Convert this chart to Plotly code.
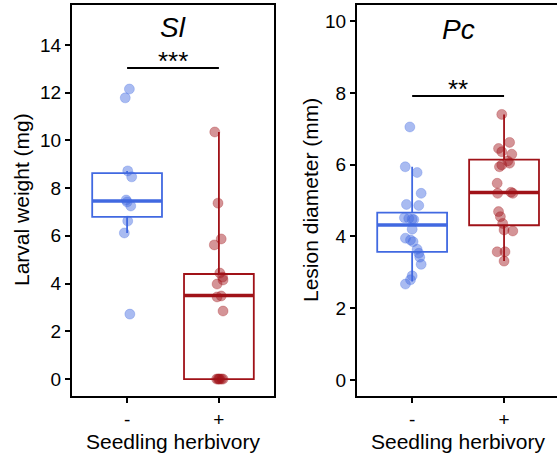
import numpy as np
import plotly.graph_objects as go

# ---------------- data ----------------
groups = ["-", "+"]
group_pos = [0, 1]

# Sl: larval weight (mg)
sl_minus = [12.15, 11.78, 8.72, 8.47, 7.50, 7.42, 7.25, 6.62, 6.12, 2.72]
sl_minus_jit = [0.025, -0.02, 0.007, 0.05, -0.01, 0.0, 0.04, 0.007, -0.03, 0.03]
sl_plus = [10.35, 7.37, 5.87, 5.62, 4.44, 4.27, 4.15, 3.98, 3.48, 3.44, 2.85,
           0, 0, 0, 0, 0, 0]
sl_plus_jit = [-0.045, -0.01, 0.025, -0.05, 0.01, 0.04, 0.045, -0.02, 0.025, -0.02, 0.045,
               -0.025, -0.01, 0.0, 0.01, 0.03, 0.045]
# box summaries: q1, median, q3, lower whisker, upper whisker
sl_q1 = [6.79, 0.0]
sl_med = [7.46, 3.50]
sl_q3 = [8.63, 4.40]
sl_lo = [6.12, 0.0]
sl_hi = [8.72, 10.35]

# Pc: lesion diameter (mm)
pc_minus = [7.05, 5.94, 5.78, 5.20, 4.89, 4.86, 4.52, 4.50, 4.48, 4.47, 4.20,
            3.95, 3.90, 3.85, 3.64, 3.53, 3.42, 3.22, 2.90, 2.79, 2.67]
pc_minus_jit = [-0.025, -0.075, 0.054, 0.098, -0.062, 0.072, -0.084, -0.037, 0.0, 0.018, 0.0,
                -0.073, -0.018, 0.01, 0.054, 0.072, 0.083, 0.098, 0.0, -0.018, -0.073]
pc_plus = [7.40, 6.62, 6.45, 6.36, 6.29, 6.10, 6.04, 5.99, 5.94, 5.48, 5.20, 5.23, 5.20,
           4.69, 4.55, 4.36, 4.18, 4.15, 3.57, 3.57, 3.31]
pc_plus_jit = [-0.025, 0.06, -0.06, -0.025, 0.084, 0.04, 0.06, -0.025, -0.05, -0.075, -0.07,
               0.075, 0.095, -0.06, -0.04, -0.015, 0.0, 0.095, -0.075, 0.01, 0.0]
pc_q1 = [3.57, 4.31]
pc_med = [4.32, 5.22]
pc_q3 = [4.66, 6.14]
pc_lo = [2.74, 3.31]
pc_hi = [5.94, 7.40]

sig_y = [13.03, 7.91]
sig_text = ["***", "**"]
panel_titles = ["Sl", "Pc"]
y_titles = ["Larval weight (mg)", "Lesion diameter (mm)"]
x_title = "Seedling herbivory"

# ---------------- style ----------------
BLUE = "rgb(65,105,225)"
BLUE_PT = "rgba(65,105,225,0.45)"
RED = "rgb(160,18,24)"
RED_PT = "rgba(160,18,24,0.45)"
colors = [BLUE, RED]
pt_colors = [BLUE_PT, RED_PT]
FONT = "Liberation Sans, Arial, sans-serif"
BW = 0.76

fig = go.Figure()

panels = [
    dict(xa="x", ya="y", pts=[(sl_minus, sl_minus_jit), (sl_plus, sl_plus_jit)],
         q1=sl_q1, med=sl_med, q3=sl_q3, lo=sl_lo, hi=sl_hi),
    dict(xa="x2", ya="y2", pts=[(pc_minus, pc_minus_jit), (pc_plus, pc_plus_jit)],
         q1=pc_q1, med=pc_med, q3=pc_q3, lo=pc_lo, hi=pc_hi),
]

for pi, p in enumerate(panels):
    for gi in range(2):
        c = group_pos[gi]
        fig.add_trace(go.Box(
            x=[c], q1=[p["q1"][gi]], median=[p["med"][gi]], q3=[p["q3"][gi]],
            lowerfence=[p["lo"][gi]], upperfence=[p["hi"][gi]],
            width=BW, whiskerwidth=0, boxpoints=False,
            fillcolor="rgba(0,0,0,0)", line=dict(color=colors[gi], width=1.8),
            xaxis=p["xa"], yaxis=p["ya"], showlegend=False, hoverinfo="skip"))
        # thicker median line
        fig.add_trace(go.Scatter(
            x=[c - BW / 2, c + BW / 2], y=[p["med"][gi]] * 2, mode="lines",
            line=dict(color=colors[gi], width=3.5),
            xaxis=p["xa"], yaxis=p["ya"], showlegend=False, hoverinfo="skip"))
        vals, jit = p["pts"][gi]
        fig.add_trace(go.Scatter(
            x=[c + j for j in jit], y=vals, mode="markers",
            marker=dict(size=10, color=pt_colors[gi],
                        line=dict(color=pt_colors[gi], width=0.6)),
            xaxis=p["xa"], yaxis=p["ya"], showlegend=False, hoverinfo="skip"))
    # significance bar
    fig.add_trace(go.Scatter(
        x=[group_pos[0], group_pos[1]], y=[sig_y[pi]] * 2, mode="lines",
        line=dict(color="black", width=2),
        xaxis=p["xa"], yaxis=p["ya"], showlegend=False, hoverinfo="skip"))

W, H = 557, 465
def px(v):
    return v / W
def py(v):
    return 1 - v / H

axis_common = dict(showline=True, linecolor="black", linewidth=2, ticks="outside",
                   ticklen=5, tickwidth=2, tickcolor="black", showgrid=False, zeroline=False,
                   tickfont=dict(family=FONT, size=19, color="black"))

fig.update_layout(
    width=W, height=H, margin=dict(l=0, r=0, t=0, b=0),
    plot_bgcolor="white", paper_bgcolor="white",
    xaxis=dict(domain=[px(72), px(274)], range=[-0.6, 1.6], tickvals=group_pos, ticktext=groups,
               mirror=True, **axis_common),
    yaxis=dict(domain=[py(396), py(5)], range=[-0.71, 15.67], tickvals=list(range(0, 15, 2)),
               mirror=True, **axis_common),
    xaxis2=dict(domain=[px(357), 1.0], range=[-0.6, 1.576], tickvals=group_pos, ticktext=groups,
                mirror=True, anchor="y2", **axis_common),
    yaxis2=dict(domain=[py(396), py(5)], range=[-0.45, 10.45], tickvals=list(range(0, 11, 2)),
                mirror=False, anchor="x2", **axis_common),
)

annots = []
for pi, (xr, yr) in enumerate([("x", "y"), ("x2", "y2")]):
    annots.append(dict(x=0.5, xref=xr, y=py(27 if pi == 0 else 29), yref="paper",
                       text="<i>%s</i>" % panel_titles[pi], showarrow=False,
                       font=dict(family=FONT, size=28, color="black"),
                       xanchor="center", yanchor="middle"))
    annots.append(dict(x=0.5, xref=xr, y=sig_y[pi], yref=yr, text=sig_text[pi],
                       showarrow=False, font=dict(family=FONT, size=26, color="black"),
                       xanchor="center", yanchor="bottom", yshift=-10))
    annots.append(dict(x=0.5, xref=xr, y=py(441), yref="paper", text=x_title,
                       showarrow=False, font=dict(family=FONT, size=21, color="black"),
                       xanchor="center", yanchor="middle"))
annots.append(dict(x=px(21), xref="paper", y=py(200), yref="paper", text=y_titles[0],
                   textangle=-90, showarrow=False,
                   font=dict(family=FONT, size=21, color="black"),
                   xanchor="center", yanchor="middle"))
annots.append(dict(x=px(310), xref="paper", y=py(200), yref="paper", text=y_titles[1],
                   textangle=-90, showarrow=False,
                   font=dict(family=FONT, size=21, color="black"),
                   xanchor="center", yanchor="middle"))
fig.update_layout(annotations=annots)

fig.write_html("out.html")
